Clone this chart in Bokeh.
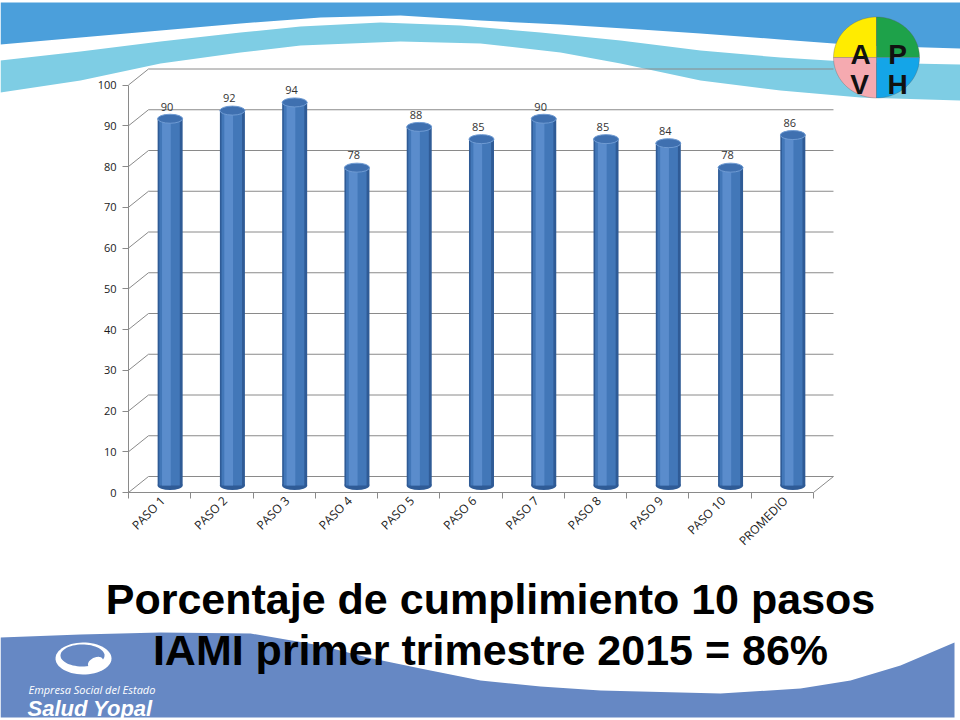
import numpy as np
from bokeh.plotting import figure
from bokeh.models import (Range1d, FixedTicker, PolyAnnotation, Label, ColumnDataSource,
                          LinearAxis)
from bokeh.embed import file_html
from bokeh.resources import INLINE
from bokeh.core.properties import value

# ---------------- data ----------------
categories = ["PASO 1", "PASO 2", "PASO 3", "PASO 4", "PASO 5", "PASO 6",
              "PASO 7", "PASO 8", "PASO 9", "PASO 10", "PROMEDIO"]
values = [90, 92, 94, 78, 88, 85, 90, 85, 84, 78, 86]
y_ticks = [0, 10, 20, 30, 40, 50, 60, 70, 80, 90, 100]
title_lines = ["Porcentaje de cumplimiento 10 pasos",
               "IAMI primer trimestre 2015 = 86%"]
logo_letters = ["A", "P", "V", "H"]
brand_lines = ["Empresa Social del Estado", "Salud Yopal"]

# ---------------- geometry / style ----------------
W, H = 960, 720
n = len(categories)
OX, OY = 128, 492          # page position of chart origin (x=0, y=0)
ux = 62.27                 # px per category
uy = 4.075                 # px per percent
wall_dx = 20 / ux
wall_dy = 16 / uy
bar_dx = 10.5 / ux
bar_dy = 7 / uy
bar_w = 25 / ux
ell_h = 9 / uy
X_END = n + wall_dx
GRID = "#8a8a8a"
FONT = "Open Sans"

p = figure(width=W, height=H, x_range=Range1d(0, W), y_range=Range1d(H, 0),
           output_backend="svg", toolbar_location=None, min_border=0,
           x_axis_location=None, y_axis_location=None)
p.outline_line_color = None
p.background_fill_color = "white"
p.border_fill_color = "white"
p.xgrid.visible = False
p.ygrid.visible = False

# chart ranges (data units), mapped onto the whole canvas
p.extra_x_ranges = {"cx": Range1d(-OX / ux, (W - OX) / ux)}
p.extra_y_ranges = {"cy": Range1d(-(H - OY) / uy, OY / uy)}
C = dict(x_range_name="cx", y_range_name="cy")

def poly(xs, ys, color, level="underlay", line=None, lw=1):
    p.add_layout(PolyAnnotation(xs=[float(v) for v in xs], ys=[float(v) for v in ys],
                                fill_color=color, fill_alpha=1.0,
                                line_color=line, line_width=lw, level=level))

# top bands
dark_x = [0, 80, 160, 240, 320, 400, 480, 560, 640, 700, 780, 860, 960]
dark_y = [44, 37, 30, 23, 17, 15, 20, 24, 29, 33, 39, 45, 48]
poly([0, 960] + dark_x[::-1], [2, 2] + dark_y[::-1], "#4b9fdb")
cy_up_x = [0, 80, 160, 240, 300, 380, 460, 540, 620, 700, 780, 860, 960]
cy_up_y = [60, 51, 41, 32, 26, 22, 25, 32, 40, 50, 57, 62, 64]
cy_lo_x = [960, 860, 780, 700, 620, 560, 480, 400, 300, 240, 160, 80, 0]
cy_lo_y = [100, 97, 90, 80, 63, 52, 43, 41, 45, 52, 63, 80, 92]
poly(cy_up_x + cy_lo_x, cy_up_y + cy_lo_y, "#7ecde4")

# bottom band
bt_x = [0, 80, 160, 250, 320, 367, 420, 480, 540, 600, 720, 800, 850, 900, 954]
bt_y = [637, 634, 632, 633, 645, 657, 668, 680, 686, 690, 693, 688, 680, 665, 642]
poly(bt_x + [954, 0], bt_y + [717, 717], "#6688c4")

# Salud Yopal emblem
t = np.linspace(0, 2 * np.pi, 60)
poly(83 + 28 * np.cos(t), 658 + 16 * np.sin(t), "white", level="annotation")
poly(82 + 22 * np.cos(t), 655 + 11 * np.sin(t), "#6688c4", level="annotation")
ang = np.deg2rad(-25)
bx, by = 8 * np.cos(t), 5 * np.sin(t)
poly(95 + bx * np.cos(ang) - by * np.sin(ang), 662 + bx * np.sin(ang) + by * np.cos(ang),
     "white", level="annotation")
p.add_layout(Label(x=28, y=689, text=brand_lines[0],
                   text_font=FONT, text_font_style="italic", text_font_size="11px",
                   text_color="white", text_baseline="alphabetic"))
p.add_layout(Label(x=27, y=708, text=brand_lines[1],
                   text_font="Liberation Sans", text_font_style="bold italic", text_font_size="22px",
                   text_color="white", text_baseline="alphabetic"))

# APVH logo
cx, cyy, rx, ry = 876, 57, 43, 40.5
quad_cols = ["#ffec00", "#1ea24a", "#f5aab0", "#14a5e8"]
quad_ang = [(90, 180), (0, 90), (180, 270), (270, 360)]
for col, (a0, a1) in zip(quad_cols, quad_ang):
    tt = np.deg2rad(np.linspace(a0, a1, 30))
    poly([cx] + list(cx + rx * np.cos(tt)), [cyy] + list(cyy - ry * np.sin(tt)),
         col, level="overlay", line="#555555", lw=1)
for letter, (lx, ly) in zip(logo_letters, [(860, 54), (897, 54), (859, 84), (897, 84)]):
    p.add_layout(Label(x=lx, y=ly, text=letter,
                       text_font="Liberation Sans", text_font_style="bold", text_font_size="28px",
                       text_color="#111111", text_align="center", text_baseline="alphabetic",
                       level="overlay"))

# title
for line, yb in zip(title_lines, [598, 649]):
    p.add_layout(Label(x=490, y=yb, text=line,
                       text_font="Liberation Sans", text_font_style="bold", text_font_size="43px",
                       text_color="black", text_align="center", text_baseline="alphabetic"))

# ---------------- 3D frame (walls & grid) ----------------
yt = np.array(y_ticks, dtype=float)
p.segment(x0=[wall_dx] * len(yt), y0=yt + wall_dy, x1=[X_END] * len(yt), y1=yt + wall_dy,
          line_color=GRID, line_width=1, **C)
p.segment(x0=[0] * len(yt), y0=yt, x1=[wall_dx] * len(yt), y1=yt + wall_dy,
          line_color=GRID, line_width=1, **C)
p.segment(x0=[n], y0=[0], x1=[n + wall_dx], y1=[wall_dy], line_color=GRID, line_width=1, **C)

# ---------------- cylinders ----------------
idx = np.arange(n)
xc = idx + 0.5 + bar_dx
vals = np.array(values, dtype=float)
src = ColumnDataSource(dict(x=xc, top=vals + bar_dy, bottom=np.full(n, bar_dy),
                            xh=xc - 0.06, xm=xc - 0.01,
                            ly=vals + bar_dy + 3.0, lx=xc - 0.05,
                            lbl=[str(v) for v in values]))
p.ellipse(x="x", y="bottom", width=bar_w, height=ell_h, source=src,
          fill_color="#2f5b96", line_color=None, **C)
p.vbar(x="x", top="top", bottom="bottom", width=bar_w, source=src,
       fill_color="#2f5b96", line_color=None, **C)
p.vbar(x="xm", top="top", bottom="bottom", width=bar_w * 0.82, source=src,
       fill_color="#4277b8", line_color=None, **C)
p.vbar(x="xh", top="top", bottom="bottom", width=bar_w * 0.35, source=src,
       fill_color="#5a8ccc", line_color=None, **C)
p.ellipse(x="x", y="top", width=bar_w, height=ell_h, source=src,
          fill_color="#3f70b0", line_color="#6f9bd3", line_width=1, **C)
p.text(x="lx", y="ly", text="lbl", source=src, text_font=value(FONT), text_font_size="11px",
       text_align="center", text_baseline="alphabetic", text_color="#333333", **C)

# ---------------- axes (fixed inside the canvas) ----------------
tick_pos = [i + 0.55 for i in range(n)]
xa = LinearAxis(x_range_name="cx", y_range_name="cy", fixed_location=0)
xa.ticker = FixedTicker(ticks=tick_pos, minor_ticks=list(range(n + 1)))
xa.major_label_overrides = {tp: c for tp, c in zip(tick_pos, categories)}
xa.bounds = (0, n)
xa.major_label_orientation = np.pi / 4
xa.major_tick_out = 0
xa.major_tick_in = 0
xa.minor_tick_out = 6
xa.minor_tick_in = 0
xa.minor_tick_line_color = GRID
xa.axis_line_color = GRID
xa.major_label_text_font = FONT
xa.major_label_text_font_size = "12px"
xa.major_label_text_color = "#1a1a1a"
xa.major_label_standoff = 0
p.add_layout(xa, "below")

ya = LinearAxis(x_range_name="cx", y_range_name="cy", fixed_location=0)
ya.ticker = FixedTicker(ticks=y_ticks)
ya.bounds = (0, 100)
ya.major_tick_out = 6
ya.major_tick_in = 0
ya.minor_tick_out = 0
ya.minor_tick_in = 0
ya.major_tick_line_color = GRID
ya.axis_line_color = GRID
ya.major_label_text_font = FONT
ya.major_label_text_font_size = "11px"
ya.major_label_text_color = "#1a1a1a"
ya.major_label_standoff = 6
p.add_layout(ya, "left")

open("out.html", "w").write(file_html(p, INLINE))
